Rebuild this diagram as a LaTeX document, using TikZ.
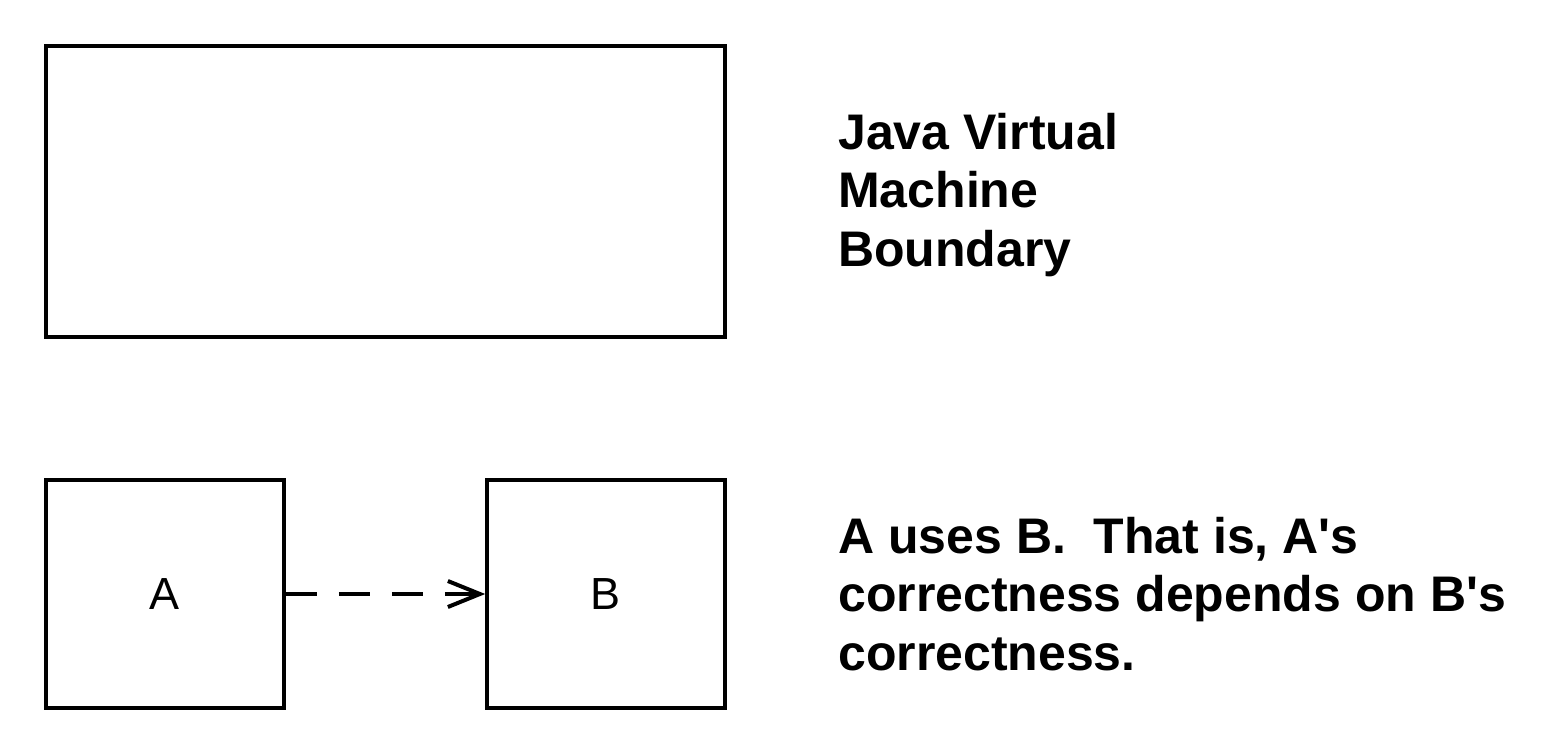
\documentclass[tikz,border=0pt]{standalone}
\usepackage{fontspec}
\setmainfont{Liberation Sans}
\usetikzlibrary{arrows.meta}
\begin{document}
\begin{tikzpicture}[x=1pt,y=-1pt,
  box/.style={draw,line width=3.6pt,line join=miter},
  lbl/.style={font=\fontsize{50}{58.5}\selectfont\bfseries,align=left,anchor=base west,inner sep=0pt},
  letter/.style={font=\fontsize{45}{54}\selectfont},
  uses/.style={line width=3.6pt,dash pattern=on 31pt off 22pt,-{Straight Barb[length=32pt,width=26pt,line width=4pt]}}]
\useasboundingbox (0,0) rectangle (1545,754);
\draw[box] (46,46) rectangle (725,337);
\node[box,minimum width=238pt,minimum height=228pt,inner sep=0pt] (A) at (165,594) {};
\node[box,minimum width=238pt,minimum height=228pt,inner sep=0pt] (B) at (606,594) {};
\node[letter] at (A.center) {A};
\node[letter] at (B.center) {B};
\draw[uses] (A.east) -- (B.west);
\node[lbl] (jvm) at (838,266) {Java Virtual\\Machine\\Boundary};
\node[lbl] (note) at (838,670) {A uses B.\ \ That is, A\textquotesingle s\\correctness depends on B\textquotesingle s\\correctness.};
\end{tikzpicture}
\end{document}
